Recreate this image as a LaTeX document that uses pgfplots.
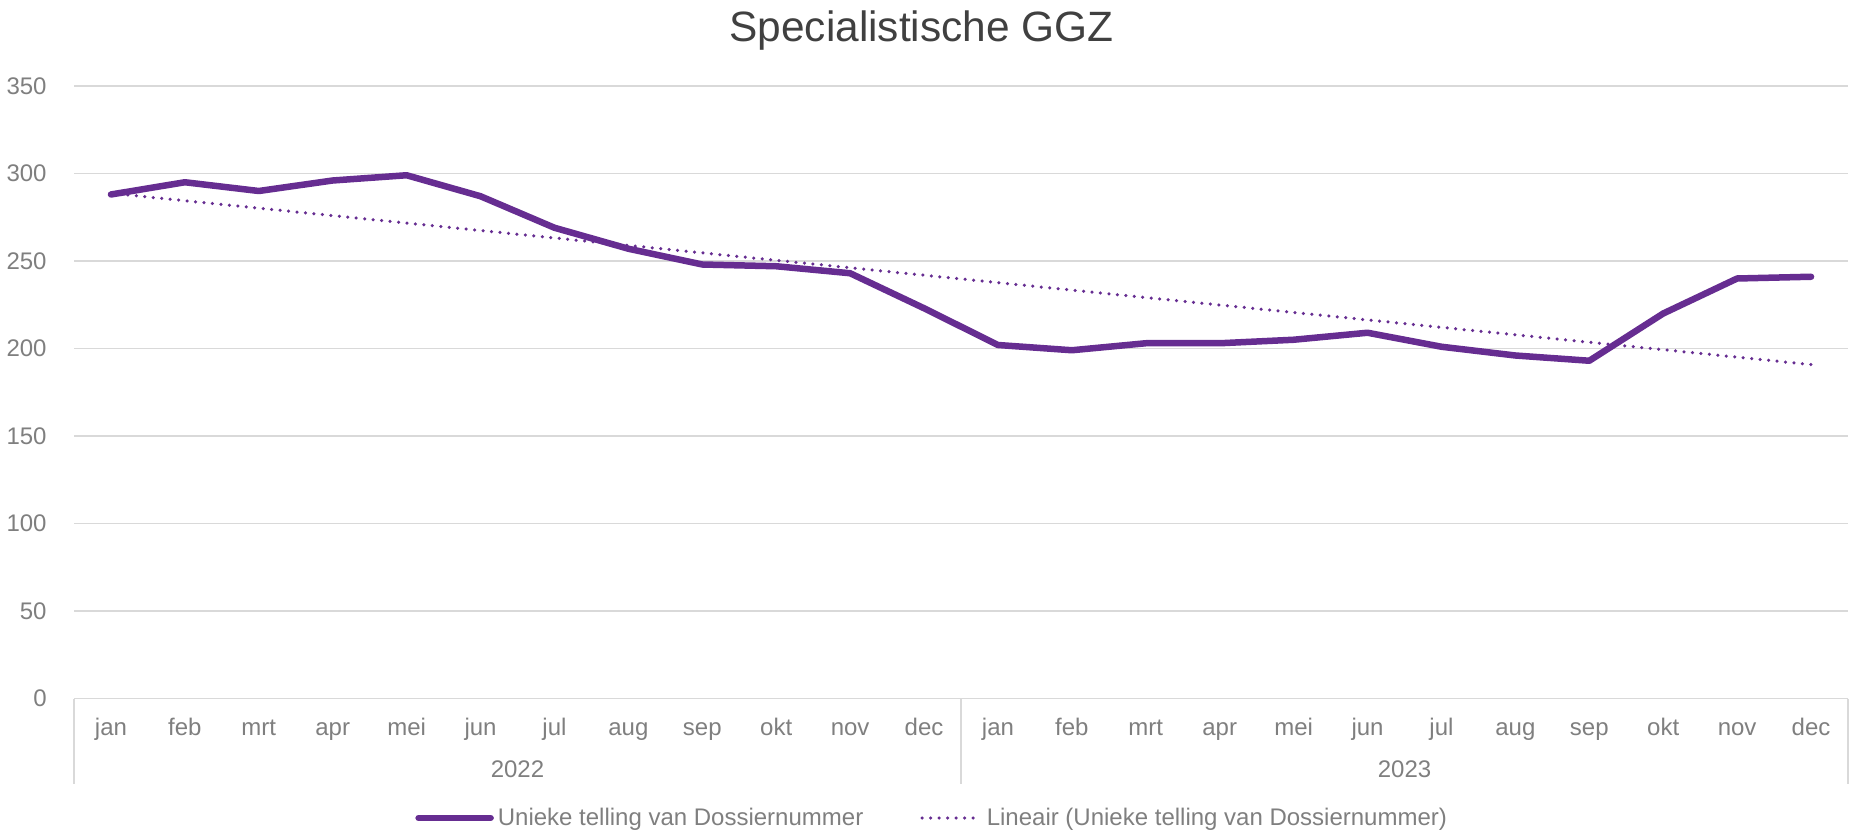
\documentclass[border=0pt]{standalone}
\usepackage{fontspec}
\setmainfont{Liberation Sans}
\usepackage{pgfplots}
\pgfplotsset{compat=1.18}
\definecolor{lijn}{HTML}{662D91}
\definecolor{rooster}{HTML}{D9D9D9}
\definecolor{tekst}{HTML}{7F7F7F}
\definecolor{titel}{HTML}{404040}
\pgfplotsset{
  lijnlegenda/.style={legend image code/.code={\draw[##1] (0bp,0bp) -- (36bp,0bp);}},
  puntlegenda/.style={legend image code/.code={\draw[##1] (0bp,0bp) -- (26bp,0bp);\path (29.5bp,0bp);}},
}
\begin{document}
\begin{tikzpicture}
\useasboundingbox (-37bp,-68.75bp) rectangle (892bp,349.25bp);
\begin{axis}[
  at={(0,0)}, anchor=south west,
  scale only axis, width=887bp, height=306.25bp,
  xmin=-0.5, xmax=23.5, ymin=0, ymax=350,
  xtick={0,...,23},
  xticklabels={jan,feb,mrt,apr,mei,jun,jul,aug,sep,okt,nov,dec,jan,feb,mrt,apr,mei,jun,jul,aug,sep,okt,nov,dec},
  ytick={0,50,...,350},
  ymajorgrids, grid style={rooster, line width=0.75bp},
  axis line style={draw=none},
  major tick length=0pt, tick style={draw=none},
  /pgf/number format/assume math mode=true,
  ticklabel style={font=\fontsize{12bp}{14bp}\selectfont, text=tekst},
  yticklabel style={anchor=east, inner sep=0pt, xshift=-13.5bp},
  xticklabel style={anchor=base, inner sep=0pt, yshift=-18.5bp},
  clip=false,
  legend columns=2,
  legend cell align=left,
  legend style={draw=none, fill=none, inner sep=0pt,
    at={(0.1922,-0.1951)}, anchor=west,
    font=\fontsize{12bp}{14bp}\selectfont, text=tekst,
    /tikz/every even column/.append style={column sep=26.5bp}},
]
\addplot[lijn, line width=3.25bp, line cap=round, line join=round, lijnlegenda]
  coordinates {
  (0,288) (1,295) (2,290) (3,296) (4,299) (5,287) (6,269) (7,257)
  (8,248) (9,247) (10,243) (11,223) (12,202) (13,199) (14,203) (15,203)
  (16,205) (17,209) (18,201) (19,196) (20,193) (21,220) (22,240) (23,241)
  };
\addlegendentry{Unieke telling van Dossiernummer}
\addplot[lijn, line width=1.75bp, line cap=round, dash pattern=on 0bp off 4.25bp, puntlegenda]
  coordinates {(0,288.7) (23,190.8)};
\addlegendentry{Lineair (Unieke telling van Dossiernummer)}
\draw[rooster, line width=0.75bp] (axis cs:-0.5,0) -- ++(0pt,-42.5bp);
\draw[rooster, line width=0.75bp] (axis cs:11.5,0) -- ++(0pt,-42.5bp);
\draw[rooster, line width=0.75bp] (axis cs:23.5,0) -- ++(0pt,-42.5bp);
\node[font=\fontsize{12bp}{14bp}\selectfont, text=tekst, yshift=-35.25bp] at (axis cs:5.5,0) {2022};
\node[font=\fontsize{12bp}{14bp}\selectfont, text=tekst, yshift=-35.25bp] at (axis cs:17.5,0) {2023};
\end{axis}
\node[font=\fontsize{21.2bp}{25bp}\selectfont, text=titel] at (423.75bp,334bp) {Specialistische GGZ};
\end{tikzpicture}
\end{document}
